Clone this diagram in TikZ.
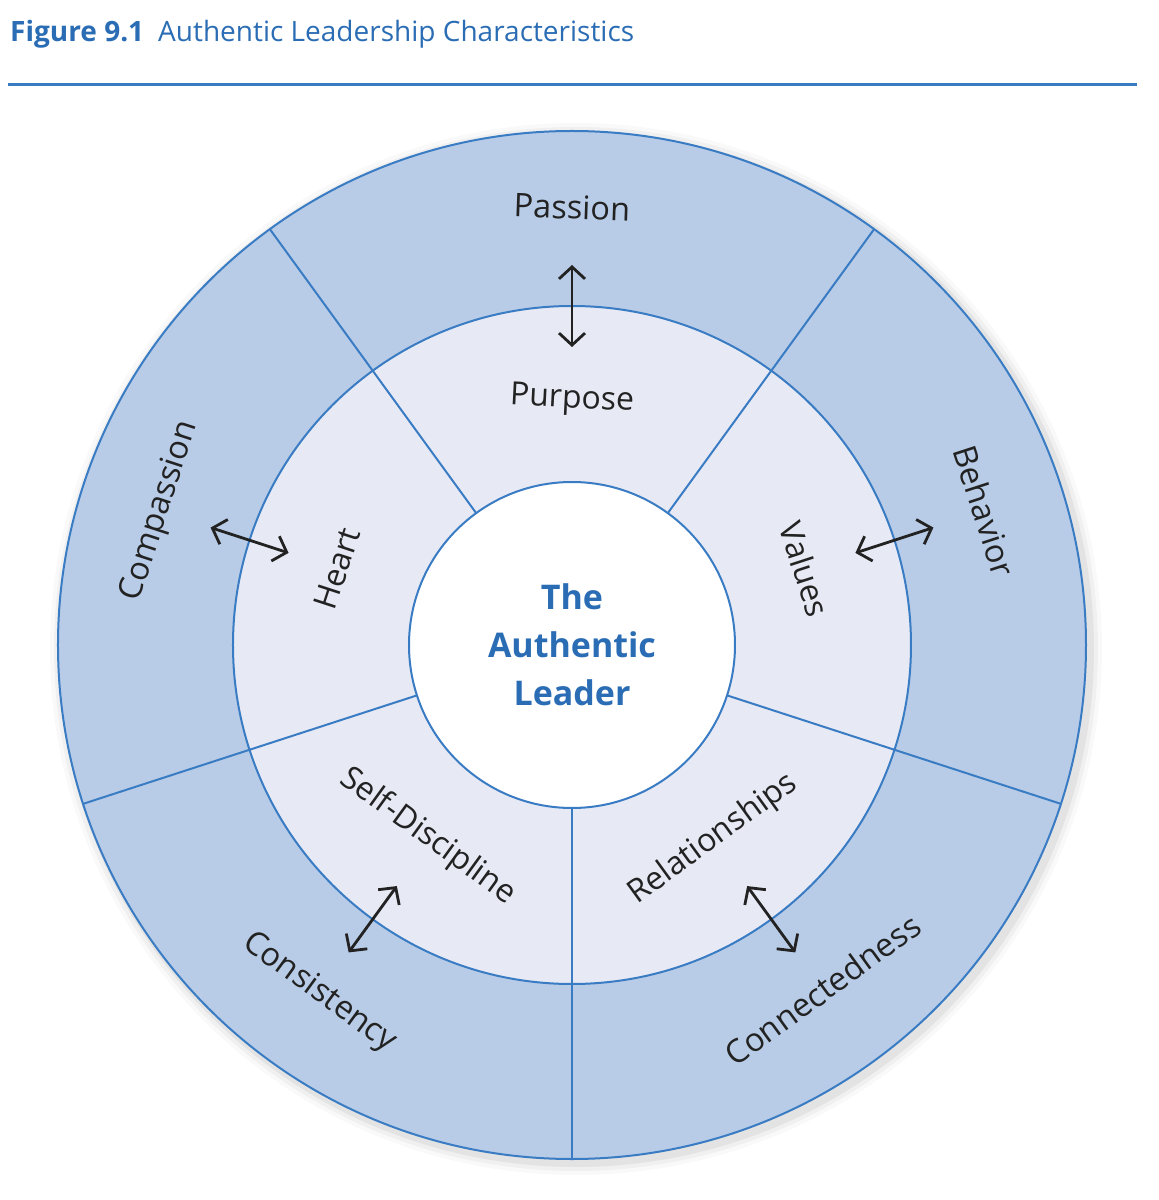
\documentclass[tikz,border=0pt]{standalone}
\usepackage{fontspec}
\setmainfont{Open Sans}
\usetikzlibrary{arrows.meta}
\definecolor{ringblue}{HTML}{B8CCE7}
\definecolor{ringpale}{HTML}{E7EAF5}
\definecolor{lineblue}{HTML}{3A7CC3}
\definecolor{titleblue}{HTML}{2B6DB5}
\definecolor{ink}{HTML}{222222}
\begin{document}
\begin{tikzpicture}[x=1pt,y=1pt,
  divider/.style={draw=lineblue,line width=2pt},
  outerlbl/.style={font=\fontsize{32.5}{36}\selectfont,text=ink,inner sep=0pt},
  innerlbl/.style={font=\fontsize{32}{36}\selectfont,text=ink,inner sep=0pt},
  linkarrow/.style={{Straight Barb[length=12pt,width=26pt]}-{Straight Barb[length=12pt,width=26pt]},line width=2.8pt,draw=ink}]
\useasboundingbox (-572,-555) rectangle (587,645);
\fill[white] (-572,-555) rectangle (587,645);
% title
\node[anchor=base west,inner sep=0pt,text=titleblue,font=\fontsize{28}{32}\selectfont] (title) at (-562,603) {\textbf{Figure 9.1}\hspace{14pt}Authentic Leadership Characteristics};
\draw[draw=lineblue,line width=3pt] (-564,560) -- (565,560);
% soft shadow
\foreach \r/\o in {526/0.025,522/0.035,518/0.05}{\fill[black,opacity=\o] (4,-4) circle (\r);}
% rings
\fill[ringblue] (0,0) circle (514);
\fill[ringpale] (0,0) circle (339);
\foreach \a in {54,126,198,270,342}{\draw[divider] (\a:163) -- (\a:514);}
\draw[divider] (0,0) circle (514);
\draw[divider] (0,0) circle (339);
\node[circle,draw=lineblue,line width=2pt,fill=white,minimum size=326pt,inner sep=0pt,align=center,text=titleblue,font=\bfseries\fontsize{34}{48}\selectfont] (core) at (0,0) {The\\Authentic\\Leader};
% outer labels
\node[outerlbl,rotate=-2] (passion) at (90:438) {Passion};
\node[outerlbl,rotate=-72] (behavior) at (18:434) {Behavior};
\node[outerlbl,rotate=36] (connect) at (-54:426) {Connectedness};
\node[outerlbl,rotate=-36] (consist) at (-126:430) {Consistency};
\node[outerlbl,rotate=72] (compass) at (162:433) {Compassion};
% inner labels
\node[innerlbl,rotate=-3] (purpose) at (90:245) {Purpose};
\node[innerlbl,rotate=-72] (values) at (18:245) {Values};
\node[innerlbl,rotate=36] (relat) at (-54:240) {Relationships};
\node[innerlbl,rotate=-36] (selfd) at (-127:240) {Self-Discipline};
\node[innerlbl,rotate=72] (heart) at (162:247) {Heart};
% arrows
\foreach \a/\n in {90/t,18/r,-54/br,-126/bl,162/l}{
  \coordinate (in\n) at (\a:298);
  \coordinate (out\n) at (\a:380);
  \draw[linkarrow] (in\n) -- (out\n);
}
\end{tikzpicture}
\end{document}
